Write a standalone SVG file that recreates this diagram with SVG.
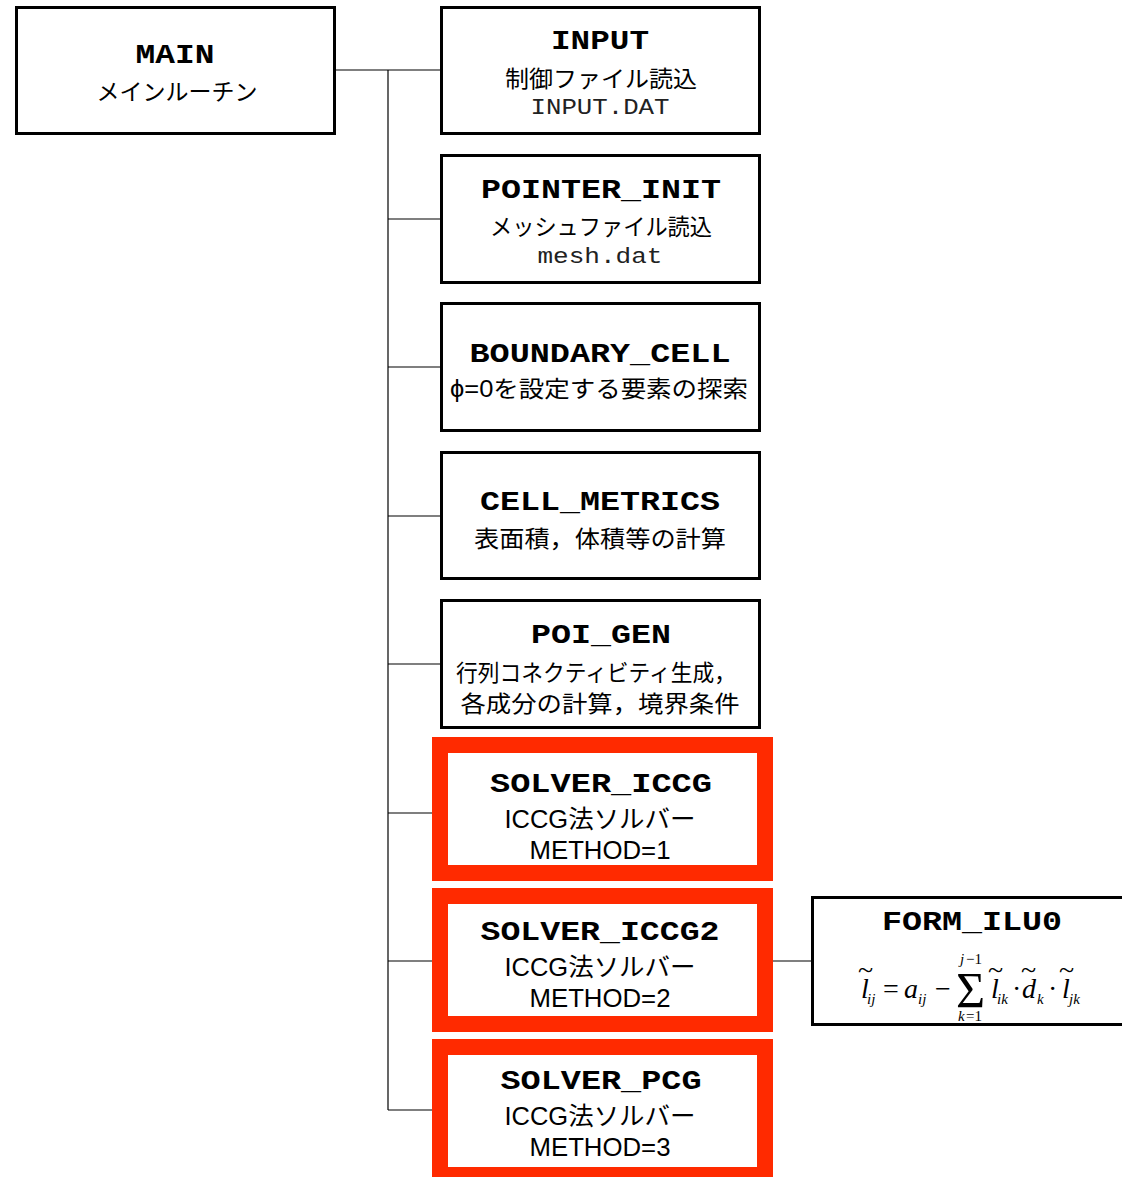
<svg xmlns="http://www.w3.org/2000/svg" width="1122" height="1177" viewBox="0 0 1122 1177">
<style>
.box{fill:#fff;stroke:#000;stroke-width:3}
.red{fill:#fff;stroke:#ff2a00;stroke-width:16}
.ln{stroke:#000;stroke-width:1.2;fill:none}
.t{font-family:"Liberation Mono",monospace;font-weight:bold;font-size:28px;text-anchor:middle;fill:#000}
.j{font-family:"Liberation Sans","Noto Sans CJK JP",sans-serif;font-size:23px;text-anchor:middle;fill:#000}
.f{font-family:"Liberation Mono",monospace;font-size:22px;text-anchor:middle;fill:#222}
.s{font-family:"Liberation Sans","Noto Sans CJK JP",sans-serif;font-size:25px;text-anchor:middle;fill:#000}
.m{font-family:"Liberation Serif",serif;font-style:italic;font-size:28px;fill:#000}
.mi{font-family:"Liberation Serif",serif;font-style:italic;font-size:15px;fill:#000}
.mo{font-family:"Liberation Serif",serif;font-size:28px;fill:#000}
.ms{font-family:"Liberation Serif",serif;font-size:15px;fill:#000}
.tl{font-family:"Liberation Serif",serif;font-size:28px;fill:#000}
.sg{font-family:"Liberation Serif",serif;font-size:50px;fill:#000}
</style>
<g id="connectors">
<line class="ln" x1="336" y1="70" x2="440" y2="70"/>
<line class="ln" x1="388" y1="70" x2="388" y2="1110"/>
<line class="ln" x1="388" y1="219" x2="440" y2="219"/>
<line class="ln" x1="388" y1="367" x2="440" y2="367"/>
<line class="ln" x1="388" y1="516" x2="440" y2="516"/>
<line class="ln" x1="388" y1="664" x2="440" y2="664"/>
<line class="ln" x1="388" y1="813" x2="432" y2="813"/>
<line class="ln" x1="388" y1="961" x2="432" y2="961"/>
<line class="ln" x1="388" y1="1110" x2="432" y2="1110"/>
<line class="ln" x1="773" y1="961" x2="811" y2="961"/>
</g>
<g id="main">
<rect class="box" x="16.5" y="7.5" width="318" height="126"/>
<text class="t" x="175" y="63" textLength="79" lengthAdjust="spacingAndGlyphs">MAIN</text>
<text class="j" x="177" y="100" textLength="161" lengthAdjust="spacingAndGlyphs">メインルーチン</text>
</g>
<g id="input">
<rect class="box" x="441.5" y="7.5" width="318" height="126"/>
<text class="t" x="600" y="49" textLength="98" lengthAdjust="spacingAndGlyphs">INPUT</text>
<text class="j" x="601" y="87" textLength="192" lengthAdjust="spacingAndGlyphs">制御ファイル読込</text>
<text class="f" x="600" y="114" textLength="139" lengthAdjust="spacingAndGlyphs">INPUT.DAT</text>
</g>
<g id="pointer_init">
<rect class="box" x="441.5" y="155.5" width="318" height="127"/>
<text class="t" x="601" y="198" textLength="240" lengthAdjust="spacingAndGlyphs">POINTER_INIT</text>
<text class="j" x="601" y="235" textLength="222" lengthAdjust="spacingAndGlyphs">メッシュファイル読込</text>
<text class="f" x="600" y="263" textLength="125" lengthAdjust="spacingAndGlyphs">mesh.dat</text>
</g>
<g id="boundary_cell">
<rect class="box" x="441.5" y="303.5" width="318" height="127"/>
<text class="t" x="600" y="362" textLength="261" lengthAdjust="spacingAndGlyphs">BOUNDARY_CELL</text>
<text class="j" x="599" y="397" textLength="298" lengthAdjust="spacingAndGlyphs">ϕ=0を設定する要素の探索</text>
</g>
<g id="cell_metrics">
<rect class="box" x="441.5" y="452.5" width="318" height="126"/>
<text class="t" x="600" y="510" textLength="240" lengthAdjust="spacingAndGlyphs">CELL_METRICS</text>
<text class="j" x="600" y="547" textLength="252" lengthAdjust="spacingAndGlyphs">表面積，体積等の計算</text>
</g>
<g id="poi_gen">
<rect class="box" x="441.5" y="600.5" width="318" height="127"/>
<text class="t" x="601" y="643" textLength="140" lengthAdjust="spacingAndGlyphs">POI_GEN</text>
<text class="j" x="596" y="681" textLength="280" lengthAdjust="spacingAndGlyphs">行列コネクティビティ生成，</text>
<text class="j" x="600" y="712" textLength="279" lengthAdjust="spacingAndGlyphs">各成分の計算，境界条件</text>
</g>
<g id="solver_iccg">
<rect class="red" x="440" y="745" width="325" height="128"/>
<text class="t" x="601" y="792" textLength="222" lengthAdjust="spacingAndGlyphs">SOLVER_ICCG</text>
<text class="s" x="600" y="828" textLength="191" lengthAdjust="spacingAndGlyphs">ICCG法ソルバー</text>
<text class="s" x="600" y="859" textLength="141" lengthAdjust="spacingAndGlyphs">METHOD=1</text>
</g>
<g id="solver_iccg2">
<rect class="red" x="440" y="896" width="325" height="128"/>
<text class="t" x="600" y="940" textLength="239" lengthAdjust="spacingAndGlyphs">SOLVER_ICCG2</text>
<text class="s" x="600" y="976" textLength="191" lengthAdjust="spacingAndGlyphs">ICCG法ソルバー</text>
<text class="s" x="600" y="1007" textLength="141" lengthAdjust="spacingAndGlyphs">METHOD=2</text>
</g>
<g id="solver_pcg">
<rect class="red" x="440" y="1047" width="325" height="128"/>
<text class="t" x="601" y="1089" textLength="201" lengthAdjust="spacingAndGlyphs">SOLVER_PCG</text>
<text class="s" x="600" y="1125" textLength="191" lengthAdjust="spacingAndGlyphs">ICCG法ソルバー</text>
<text class="s" x="600" y="1156" textLength="141" lengthAdjust="spacingAndGlyphs">METHOD=3</text>
</g>
<g id="form_ilu0">
<rect class="box" x="812.5" y="897.5" width="330" height="127"/>
<text class="t" x="972" y="930" textLength="180" lengthAdjust="spacingAndGlyphs">FORM_ILU0</text>
<text class="tl" x="858" y="979">~</text>
<text class="m" x="861" y="998">l</text>
<text class="mi" x="867" y="1004">ij</text>
<text class="mo" x="883" y="998">=</text>
<text class="m" x="904" y="998">a</text>
<text class="mi" x="918" y="1004">ij</text>
<text class="mo" x="935" y="998">−</text>
<text class="sg" x="956" y="1007">Σ</text>
<text class="mi" x="960" y="964">j</text>
<text class="ms" x="966" y="964">−1</text>
<text class="mi" x="958" y="1021">k</text>
<text class="ms" x="966" y="1021">=1</text>
<text class="tl" x="988" y="979">~</text>
<text class="m" x="991" y="998">l</text>
<text class="mi" x="997" y="1004">ik</text>
<text class="mo" x="1012" y="998">·</text>
<text class="tl" x="1021" y="979">~</text>
<text class="m" x="1022" y="998">d</text>
<text class="mi" x="1037" y="1004">k</text>
<text class="mo" x="1048" y="998">·</text>
<text class="tl" x="1059" y="979">~</text>
<text class="m" x="1062" y="998">l</text>
<text class="mi" x="1069" y="1004">jk</text>
</g>
</svg>
